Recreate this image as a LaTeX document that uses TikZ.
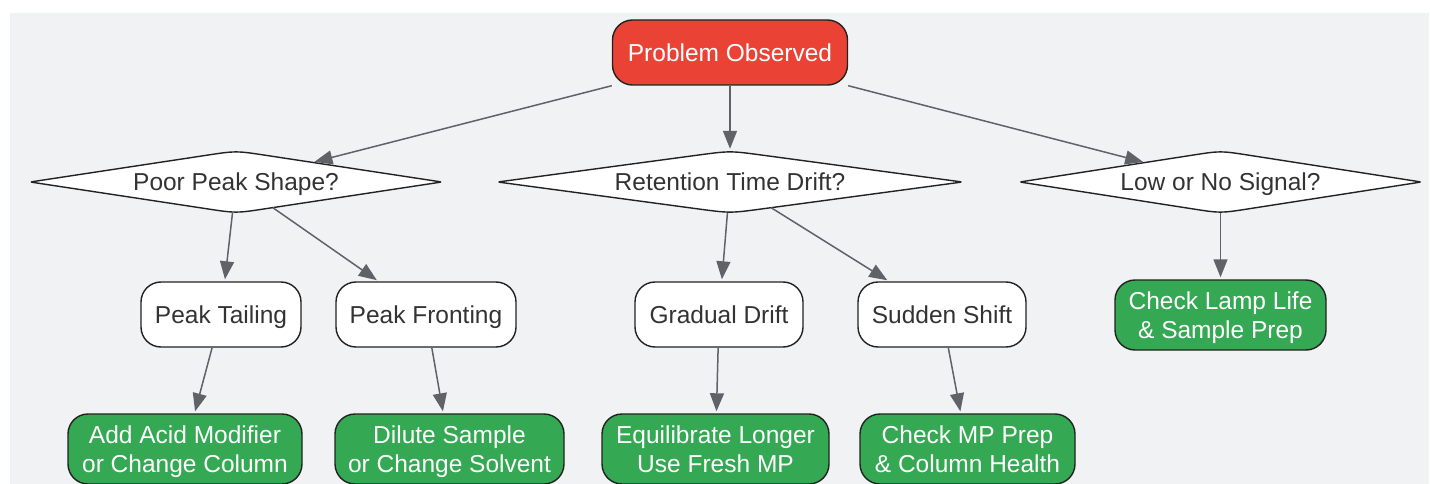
\documentclass[tikz,border=0pt]{standalone}
\usepackage{fontspec}
\setmainfont{Liberation Sans}
\usetikzlibrary{shapes.geometric,arrows.meta,calc}
\definecolor{bgcol}{HTML}{F1F2F4}
\definecolor{redfill}{HTML}{EA4335}
\definecolor{greenfill}{HTML}{34A853}
\definecolor{edgecol}{HTML}{222222}
\definecolor{arrowcol}{HTML}{5F6368}
\definecolor{txtcol}{HTML}{333333}
\pgfdeclarelayer{bg}
\pgfsetlayers{bg,main}
\newcommand{\rdiamond}[1]{%
 \begin{pgfonlayer}{bg}
 \path[dshape] ($(#1.west)!0.02!(#1.north)$) -- ($(#1.west)!0.86!(#1.north)$)
   .. controls (#1.north) .. ($(#1.north)!0.14!(#1.east)$) -- ($(#1.north)!0.98!(#1.east)$)
   .. controls (#1.east) .. ($(#1.east)!0.02!(#1.south)$) -- ($(#1.east)!0.86!(#1.south)$)
   .. controls (#1.south) .. ($(#1.south)!0.14!(#1.west)$) -- ($(#1.south)!0.98!(#1.west)$)
   .. controls (#1.west) .. ($(#1.west)!0.02!(#1.north)$) -- cycle;
 \end{pgfonlayer}}
\begin{document}
\begin{tikzpicture}[x=1pt,y=-1pt,
  every node/.style={font=\fontsize{24.5}{28.5}\selectfont, align=center, inner sep=0pt},
  oneline/.style={text height=17.5pt, text depth=0pt},
  twoline/.style={text depth=0pt},
  box/.style={rectangle, rounded corners=20pt, draw=edgecol, line width=1.4pt},
  whitebox/.style={box, oneline, fill=white, text=txtcol, minimum height=65pt},
  greenbox/.style={box, twoline, fill=greenfill, text=white, minimum height=70pt},
  redbox/.style={box, oneline, fill=redfill, text=white, minimum height=65pt},
  question/.style={diamond, oneline, aspect=6, text=txtcol, minimum height=62pt},
  dshape/.style={fill=white, draw=edgecol, line width=1.4pt, line join=round},
  arr/.style={draw=arrowcol, line width=1.5pt, -{Triangle[length=18pt,width=14pt]}, shorten >=2pt, fill=arrowcol}
]
\useasboundingbox (0,0) rectangle (1430,484);
\begin{pgfonlayer}{bg}
\fill[bgcol] (10,13) rectangle (1429,484);
\end{pgfonlayer}

\node[redbox, minimum width=235pt] (P) at (730,52.5) {Problem Observed};

\node[question, minimum width=411pt] (D1) at (236,182) {Poor Peak Shape?};
\node[question, minimum width=464pt] (D2) at (730,182) {Retention Time Drift?};
\node[question, minimum width=401pt] (D3) at (1220.5,182) {Low or No Signal?};
\rdiamond{D1}\rdiamond{D2}\rdiamond{D3}

\node[whitebox, minimum width=160pt] (T1) at (221,314.5) {Peak Tailing};
\node[whitebox, minimum width=180pt] (T2) at (426,314.5) {Peak Fronting};
\node[whitebox, minimum width=168pt] (G) at (719,314.5) {Gradual Drift};
\node[whitebox, minimum width=168pt] (S) at (942,314.5) {Sudden Shift};
\node[greenbox, minimum width=211pt] (L) at (1220.5,315) {Check Lamp Life\\\& Sample Prep};

\node[greenbox, minimum width=234pt] (A) at (185,449) {Add Acid Modifier\\or Change Column};
\node[greenbox, minimum width=229pt] (Dl) at (449.5,449) {Dilute Sample\\or Change Solvent};
\node[greenbox, minimum width=227pt] (E) at (715.5,449) {Equilibrate Longer\\Use Fresh MP};
\node[greenbox, minimum width=215pt] (M) at (967.5,449) {Check MP Prep\\\& Column Health};

\draw[arr] (P.south west) -- (D1);
\draw[arr] (P) -- (D2);
\draw[arr] (P.south east) -- (D3);
\draw[arr] (D1) -- (T1);
\draw[arr] (D1) -- (T2);
\draw[arr] (D2) -- (G);
\draw[arr] (D2) -- (S);
\draw[arr] (D3) -- (L);
\draw[arr] (T1) -- (A);
\draw[arr] (T2) -- (Dl);
\draw[arr] (G) -- (E);
\draw[arr] (S) -- (M);
\end{tikzpicture}
\end{document}
